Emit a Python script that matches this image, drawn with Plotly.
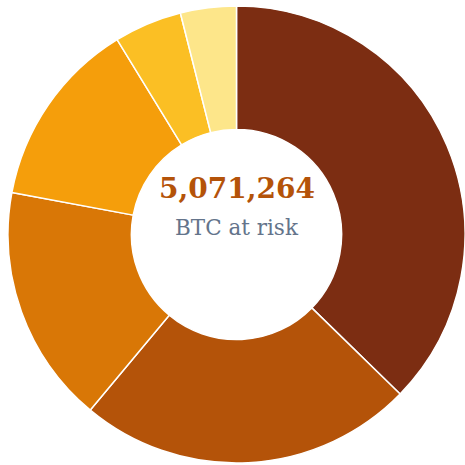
import plotly.graph_objects as go

labels = ["Segment A", "Segment B", "Segment C", "Segment D", "Segment E", "Segment F"]
values = [1891582, 1204425, 857044, 674478, 243421, 200314]
colors = ["#7c2d12", "#b45309", "#d97706", "#f59e0b", "#fbbf24", "#fde68a"]
center_label = "BTC at risk"

total = sum(values)

fig = go.Figure(go.Pie(
    labels=labels,
    values=values,
    hole=0.46,
    sort=False,
    direction="clockwise",
    rotation=0,
    marker=dict(colors=colors, line=dict(color="white", width=1.5)),
    textinfo="none",
    showlegend=False,
))

fig.update_layout(
    width=465, height=465,
    margin=dict(l=8, r=0, t=4, b=0),
    paper_bgcolor="white",
    plot_bgcolor="white",
    annotations=[
        dict(text=f"<b>{total:,}</b>", x=0.5, y=0.6, xref="paper", yref="paper",
             showarrow=False, xanchor="center", yanchor="middle",
             font=dict(family="DejaVu Serif", size=28, color="#b45309")),
        dict(text=center_label, x=0.5, y=0.515, xref="paper", yref="paper",
             showarrow=False, xanchor="center", yanchor="middle",
             font=dict(family="DejaVu Serif", size=21.5, color="#64748b")),
    ],
)

fig.write_html("out.html")
